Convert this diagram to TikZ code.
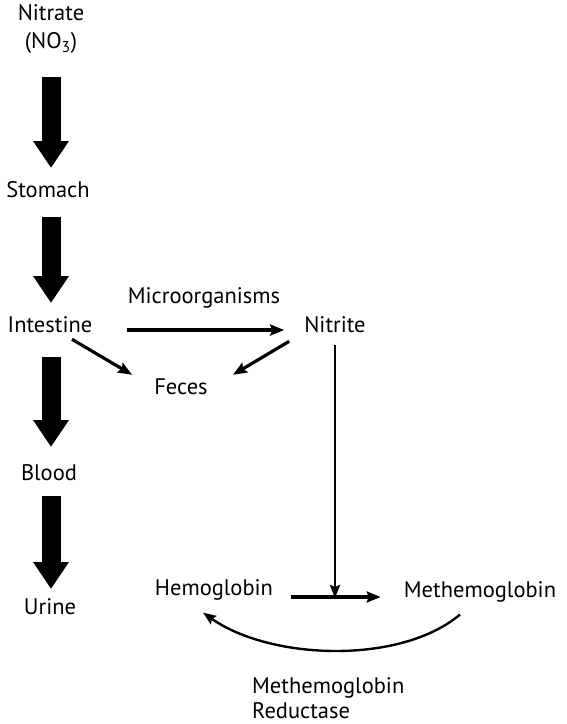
\documentclass[tikz,border=0pt]{standalone}
\usepackage{fontspec}
\setmainfont{PT Sans}
\usetikzlibrary{arrows.meta,calc}
\begin{document}
\begin{tikzpicture}[x=1pt,y=-1pt,
  lbl/.style={inner sep=0pt,font=\fontsize{22.5}{28}\selectfont},
  bigarrow/.style={line width=19pt,-{Triangle[length=27pt,width=34pt]}},
  arr/.style={line width=3.2pt,-{Stealth[length=14pt,width=11pt,inset=2pt]}},
  thin arr/.style={line width=2.4pt,-{Stealth[length=13pt,width=10pt,inset=2pt]}}]
\useasboundingbox (0,0) rectangle (567,724);
\node[lbl,align=center] (nitrate) at (51,29) {Nitrate\\(NO\textsubscript{3})};
\node[lbl] (stomach) at (48,190) {Stomach};
\node[lbl] (intestine) at (50,325) {Intestine};
\node[lbl] (blood) at (49,473) {Blood};
\node[lbl] (urine) at (50,607) {Urine};
\node[lbl] (micro) at (204,298) {Microorganisms};
\node[lbl] (nitrite) at (335,325) {Nitrite};
\node[lbl] (feces) at (181,387) {Feces};
\node[lbl] (hb) at (214,590) {Hemoglobin};
\node[lbl] (methb) at (480,592) {Methemoglobin};
\node[lbl,align=left,anchor=base west,font=\fontsize{22.5}{25}\selectfont] (reduct) at (252,718) {Methemoglobin\\Reductase};
% big arrows
\draw[bigarrow] (nitrate |- 0,77) -- (nitrate |- 0,168);
\draw[bigarrow] (nitrate |- 0,217) -- (nitrate |- 0,303);
\draw[bigarrow] (nitrate |- 0,357) -- (nitrate |- 0,447);
\draw[bigarrow] (nitrate |- 0,496) -- (nitrate |- 0,589);
% small arrows
\draw[arr] (127,330) -- ($(nitrite.west |- 0,330)+(-20,0)$);
\draw[arr] ($(intestine.south)+(22,6)$) -- ($(feces.north west)+(-22,-4)$);
\draw[arr] ($(nitrite.south west)+(-15,8)$) -- ($(feces.north east)+(25,-4)$);
\draw[thin arr,line width=2.8pt] (nitrite.south |- 0,345) -- (nitrite.south |- 0,598);
\draw[arr] ($(hb.east)+(18,7)$) -- ($(methb.west)+(-23,5)$);
\draw[thin arr] ($(methb.south)+(-20,12)$) .. controls (400,665) and (270,660) .. ($(hb.south)+(-11,12)$);
\end{tikzpicture}
\end{document}
